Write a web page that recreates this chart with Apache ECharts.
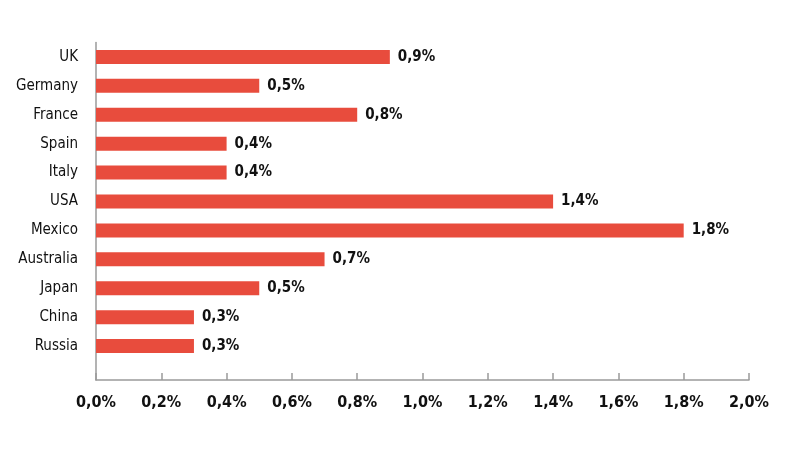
<!DOCTYPE html>
<html>
<head>
<meta charset="utf-8">
<script src="https://cdn.jsdelivr.net/npm/echarts@6/dist/echarts.min.js"></script>
<style>
  html, body { margin: 0; padding: 0; background: #fff; }
  #chart { width: 800px; height: 457px; }
</style>
</head>
<body>
<div id="chart"></div>
<script>
const countries = ['UK', 'Germany', 'France', 'Spain', 'Italy', 'USA', 'Mexico', 'Australia', 'Japan', 'China', 'Russia'];
const shares = [0.9, 0.5, 0.8, 0.4, 0.4, 1.4, 1.8, 0.7, 0.5, 0.3, 0.3];
const axisMin = 0;
const axisMax = 2.0;
const axisStep = 0.2;

const font = '"Liberation Sans Narrow", "DejaVu Sans Condensed", sans-serif';
const pct = v => Number(v).toFixed(1).replace('.', ',') + '%';

const chart = echarts.init(document.getElementById('chart'));
chart.setOption({
  animation: false,
  grid: [
    { left: 96, right: 51, top: 42.5, height: 318 },
    { left: 96, right: 51, top: 42.5, bottom: 77 }
  ],
  xAxis: [
    {
      gridIndex: 0,
      type: 'value',
      min: axisMin,
      max: axisMax,
      interval: axisStep,
      offset: 19.5,
      splitLine: { show: false },
      axisLine: { show: true, lineStyle: { color: '#9a9a9a', width: 1.5 } },
      axisTick: { show: true, inside: true, length: 7, lineStyle: { color: '#9a9a9a', width: 1.5 } },
      axisLabel: {
        margin: 15,
        formatter: pct,
        color: '#111',
        fontFamily: font,
        fontWeight: 'bold',
        fontSize: 16
      }
    },
    { gridIndex: 1, type: 'value', show: false, min: 0, max: 1 }
  ],
  yAxis: [
    {
      gridIndex: 0,
      type: 'category',
      inverse: true,
      data: countries,
      axisLine: { show: false },
      axisTick: { show: false },
      axisLabel: {
        margin: 18,
        color: '#111',
        fontFamily: font,
        fontSize: 15
      }
    },
    {
      gridIndex: 1,
      type: 'value',
      min: 0,
      max: 1,
      axisLine: { show: true, lineStyle: { color: '#9a9a9a', width: 1.5 } },
      axisTick: { show: false },
      axisLabel: { show: false },
      splitLine: { show: false }
    }
  ],
  series: [{
    type: 'bar',
    xAxisIndex: 0,
    yAxisIndex: 0,
    data: shares,
    barWidth: 14,
    itemStyle: { color: '#e84c3d' },
    label: {
      show: true,
      position: 'right',
      distance: 8,
      formatter: p => pct(p.value),
      color: '#111',
      fontFamily: font,
      fontWeight: 'bold',
      fontSize: 15
    }
  }]
});
</script>
</body>
</html>
